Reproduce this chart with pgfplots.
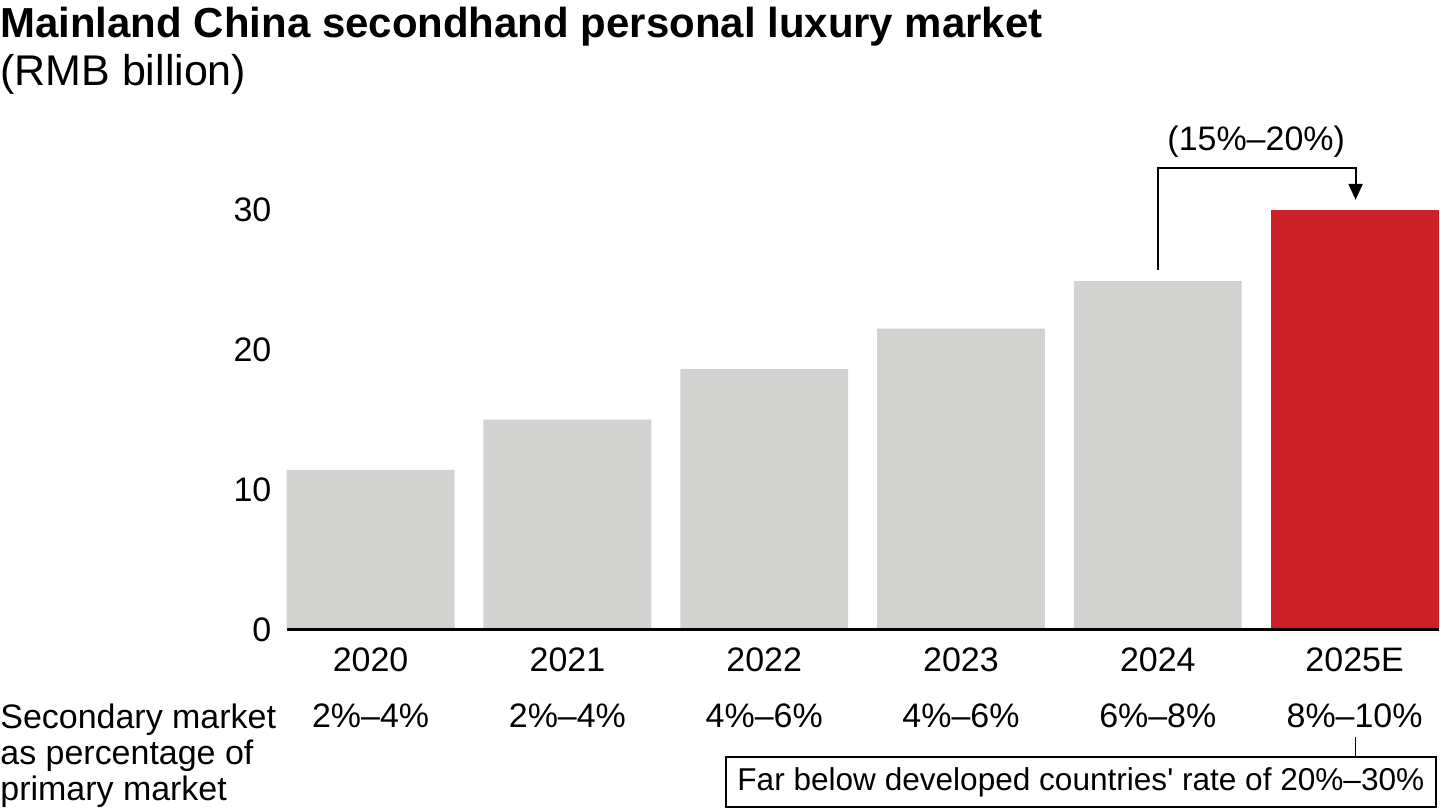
\documentclass[border=0pt]{standalone}
\usepackage{fontspec}
\setmainfont{Liberation Sans}
\usepackage{pgfplots}
\pgfplotsset{compat=1.18}
\usetikzlibrary{arrows.meta}
\definecolor{barg}{RGB}{210,210,209}
\definecolor{barr}{RGB}{204,33,41}
\begin{document}
\begin{tikzpicture}
\begin{scope}[x=0.5pt,y=-0.5pt]
\path[use as bounding box] (0,0) rectangle (1440,810);
\node[anchor=base west,inner sep=0,font=\fontsize{21}{25}\selectfont\bfseries] at (0,38) {Mainland China secondhand personal luxury market};
\node[anchor=base west,inner sep=0,font=\fontsize{21.5}{24}\selectfont] at (0,86) {(RMB billion)};
\node[anchor=base west,inner sep=0,font=\fontsize{17}{20}\selectfont] at (0,729) {Secondary market};
\node[anchor=base west,inner sep=0,font=\fontsize{17}{20}\selectfont] at (0,765) {as percentage of};
\node[anchor=base west,inner sep=0,font=\fontsize{17}{20}\selectfont] at (0,801) {primary market};
\draw[line width=0.6pt] (1357,738) -- (1357,758);
\node[draw, line width=1pt, minimum width=355pt, minimum height=25pt, inner sep=0pt, font=\fontsize{15.8}{19}\selectfont] at (1082,783) {Far below developed countries\textquotesingle{} rate of 20\%–30\%};
\end{scope}
\begin{axis}[
  at={(143.5pt,-315pt)}, anchor=south west,
  scale only axis, width=576.5pt, height=210pt,
  xmin=-0.4264, xmax=5.4264, ymin=0, ymax=30,
  ybar, clip=false, axis on top,
  axis x line*=bottom, axis y line*=left,
  x axis line style={line width=1.5pt},
  y axis line style={draw=none},
  major tick length=0pt,
  xtick={0,1,2,3,4,5},
  xticklabels={{2020\\2\%–4\%},{2021\\2\%–4\%},{2022\\4\%–6\%},{2023\\4\%–6\%},{2024\\6\%–8\%},{2025E\\8\%–10\%}},
  xticklabel style={align=center,inner sep=0pt,yshift=-9pt,font=\fontsize{17}{28}\selectfont},
  ytick={0,10,20,30},
  yticklabel style={inner sep=0pt,anchor=east,xshift=-7.5pt,font=\fontsize{17}{20}\selectfont},
  /pgf/number format/assume math mode=true,
]
\addplot[fill=barg, draw=none, bar width=0.853, bar shift=0pt] coordinates {(0,11.4) (1,15.0) (2,18.6) (3,21.5) (4,24.9)};
\addplot[fill=barr, draw=none, bar width=0.853, bar shift=0pt] coordinates {(5,30)};
\draw[line width=1pt, -{Triangle[length=8pt,width=7pt]}] (axis cs:4,25.71) -- (axis cs:4,33) -- (axis cs:5.005,33) -- (axis cs:5.005,30.71);
\node[anchor=base, inner sep=0pt, font=\fontsize{17}{20}\selectfont] at (axis cs:4.5,34.21) {(15\%–20\%)};
\end{axis}
\end{tikzpicture}
\end{document}
